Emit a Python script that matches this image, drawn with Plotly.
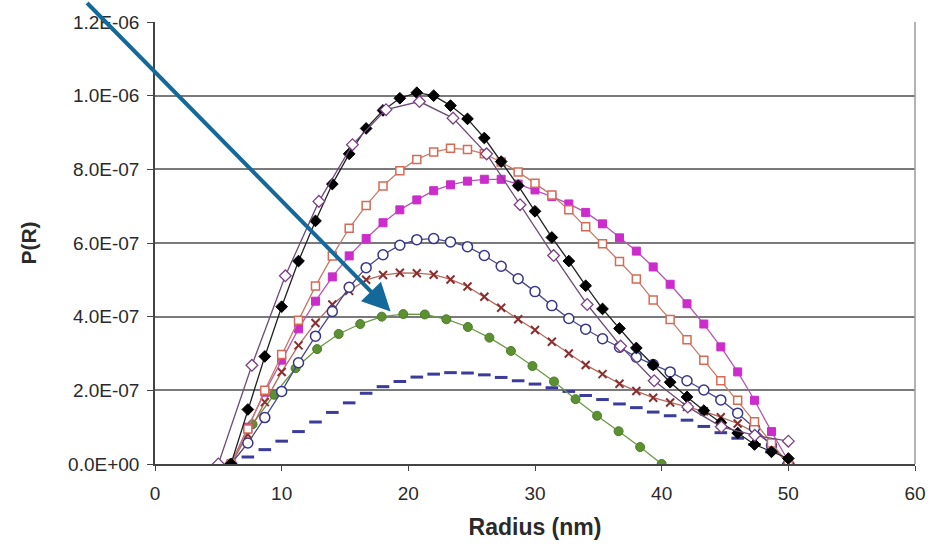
import plotly.graph_objects as go

# Radius grids (nm) for the different curve families
radius_main = [6.0, 7.33, 8.67, 10.0, 11.33, 12.67, 14.0, 15.33, 16.67, 18.0,
               19.33, 20.67, 22.0, 23.33, 24.67, 26.0, 27.33, 28.67, 30.0, 31.33,
               32.67, 34.0, 35.33, 36.67, 38.0, 39.33, 40.67, 42.0, 43.33, 44.67,
               46.0, 47.33, 48.67, 50.0]
radius_wide = [5.0, 7.65, 10.29, 12.94, 15.59, 18.24, 20.88, 23.53, 26.18, 28.82,
               31.47, 34.12, 36.76, 39.41, 42.06, 44.71, 47.35, 50.0]
radius_short = [6.0, 7.7, 9.4, 11.1, 12.8, 14.5, 16.2, 17.9, 19.6, 21.3, 23.0,
                24.7, 26.4, 28.1, 29.8, 31.5, 33.2, 34.9, 36.6, 38.3, 40.0]

# P(R) values in units of 1e-7
UNIT = 1e-7
p_open_diamond = [0.0, 2.68, 5.11, 7.13, 8.67, 9.62, 9.84, 9.39, 8.42, 7.04,
                  5.66, 4.33, 3.2, 2.26, 1.55, 1.01, 0.78, 0.62]
p_black_diamond = [0.0, 1.48, 2.92, 4.27, 5.51, 6.6, 7.6, 8.42, 9.11, 9.6,
                   9.93, 10.08, 10.0, 9.73, 9.37, 8.85, 8.21, 7.56, 6.86, 6.15,
                   5.51, 4.84, 4.21, 3.68, 3.15, 2.69, 2.22, 1.82, 1.45, 1.12,
                   0.84, 0.53, 0.33, 0.15]
p_open_square = [0.0, 0.95, 2.0, 2.97, 3.9, 4.83, 5.65, 6.4, 7.02, 7.55,
                 7.96, 8.27, 8.47, 8.57, 8.54, 8.42, 8.2, 7.93, 7.62, 7.3,
                 6.9, 6.44, 5.98, 5.5, 5.02, 4.45, 3.92, 3.37, 2.82, 2.26,
                 1.73, 1.15, 0.57, 0.0]
p_filled_square = [0.0, 1.0, 1.95, 2.82, 3.67, 4.42, 5.08, 5.65, 6.12, 6.55,
                   6.9, 7.17, 7.42, 7.58, 7.68, 7.73, 7.73, 7.6, 7.44, 7.26,
                   7.06, 6.83, 6.52, 6.14, 5.78, 5.35, 4.88, 4.35, 3.8, 3.18,
                   2.5, 1.73, 0.88, 0.08]
p_open_circle = [0.0, 0.57, 1.26, 1.97, 2.75, 3.47, 4.14, 4.8, 5.33, 5.68,
                 5.94, 6.09, 6.12, 6.03, 5.9, 5.66, 5.37, 5.03, 4.68, 4.3,
                 3.95, 3.66, 3.4, 3.17, 2.9, 2.7, 2.5, 2.26, 2.01, 1.74,
                 1.38, 0.98, 0.5, 0.0]
p_cross = [0.0, 0.8, 1.68, 2.5, 3.22, 3.83, 4.33, 4.7, 5.0, 5.13,
           5.19, 5.18, 5.14, 5.01, 4.82, 4.54, 4.24, 3.93, 3.64, 3.32,
           3.0, 2.69, 2.44, 2.18, 1.98, 1.8, 1.67, 1.55, 1.43, 1.27,
           1.1, 0.86, 0.55, 0.0]
p_green = [0.0, 1.08, 1.88, 2.6, 3.12, 3.53, 3.8, 4.0, 4.07, 4.06, 3.93,
           3.72, 3.43, 3.07, 2.66, 2.24, 1.76, 1.31, 0.89, 0.46, 0.0]
p_dash = [0.0, 0.19, 0.39, 0.62, 0.88, 1.14, 1.4, 1.66, 1.92, 2.1,
          2.24, 2.36, 2.44, 2.48, 2.47, 2.42, 2.35, 2.26, 2.17, 2.07,
          1.97, 1.86, 1.75, 1.63, 1.53, 1.41, 1.31, 1.19, 1.02, 0.85,
          0.7, 0.53, 0.33, 0.0]

y_tick_vals = [0, 2e-7, 4e-7, 6e-7, 8e-7, 1e-6, 1.2e-6]
y_tick_text = ["0.0E+00", "2.0E-07", "4.0E-07", "6.0E-07", "8.0E-07",
               "1.0E-06", "1.2E-06"]
x_tick_vals = [0, 10, 20, 30, 40, 50, 60]


def scaled(vals):
    return [v * UNIT for v in vals]


fig = go.Figure()

fig.add_trace(go.Scatter(
    x=radius_main, y=scaled(p_dash), mode="markers",
    marker=dict(symbol="line-ew", size=9, color="#3b3b9c",
                line=dict(color="#3b3b9c", width=3))))

fig.add_trace(go.Scatter(
    x=radius_short, y=scaled(p_green), mode="lines+markers",
    line=dict(color="#6a9a45", width=1.3),
    marker=dict(symbol="circle", size=9, color="#5b9130",
                line=dict(color="#4d7d28", width=1))))

fig.add_trace(go.Scatter(
    x=radius_main, y=scaled(p_cross), mode="lines+markers",
    line=dict(color="#b66a5c", width=1.3),
    marker=dict(symbol="x-thin", size=8, color="#8a2f2f",
                line=dict(color="#8a2f2f", width=2))))

fig.add_trace(go.Scatter(
    x=radius_main, y=scaled(p_open_circle), mode="lines+markers",
    line=dict(color="#4a4a8e", width=1.3),
    marker=dict(symbol="circle", size=10, color="white",
                line=dict(color="#35358a", width=1.5))))

fig.add_trace(go.Scatter(
    x=radius_main, y=scaled(p_filled_square), mode="lines+markers",
    line=dict(color="#b556b5", width=1.3),
    marker=dict(symbol="square", size=8, color="#cc2ccc",
                line=dict(color="#cc2ccc", width=1))))

fig.add_trace(go.Scatter(
    x=radius_main, y=scaled(p_open_square), mode="lines+markers",
    line=dict(color="#c77a68", width=1.3),
    marker=dict(symbol="square", size=8, color="white",
                line=dict(color="#d86a55", width=1.5))))

fig.add_trace(go.Scatter(
    x=radius_main, y=scaled(p_black_diamond), mode="lines+markers",
    line=dict(color="#222222", width=1.3),
    marker=dict(symbol="diamond", size=9, color="black",
                line=dict(color="black", width=1))))

fig.add_trace(go.Scatter(
    x=radius_wide, y=scaled(p_open_diamond), mode="lines+markers",
    line=dict(color="#6e4a78", width=1.3),
    marker=dict(symbol="diamond", size=9, color="white",
                line=dict(color="#7a3f82", width=1.3))))

# Pointer arrow; tail runs off the top edge of the page
fig.add_annotation(
    x=18.6, y=4.14e-7, xref="x", yref="y",
    ax=-305, ay=-310, axref="pixel", ayref="pixel",
    text="", showarrow=True, arrowhead=2, arrowsize=1.4,
    arrowwidth=4, arrowcolor="#14699a", standoff=0)

# Light right-hand frame line
fig.add_shape(type="line", xref="paper", yref="paper",
              x0=1, x1=1, y0=0, y1=1,
              line=dict(color="#9a9a9a", width=1.5))

FONT = "Liberation Sans, Arial, sans-serif"
tick_font = dict(family=FONT, size=19, color="#2a2a2a")

fig.update_layout(
    width=940, height=548,
    margin=dict(l=155, r=25, t=14, b=84),
    paper_bgcolor="white", plot_bgcolor="white",
    showlegend=False,
    font=tick_font,
    xaxis=dict(
        range=[0, 60], tickvals=x_tick_vals, showgrid=False,
        zeroline=False, showline=True, linecolor="#444444", linewidth=1.5,
        ticks="outside", ticklen=5, tickcolor="#444444", tickwidth=1,
        tickfont=tick_font, ticklabelstandoff=6,
        title=dict(text="<b>Radius (nm)</b>", standoff=16,
                   font=dict(family=FONT, size=23, color="#2a2a2a"))),
    yaxis=dict(
        range=[0, 1.2e-6], tickvals=y_tick_vals, ticktext=y_tick_text,
        showgrid=True, gridcolor="#7a7a7a", gridwidth=1.5,
        zeroline=False, showline=True, linecolor="#444444", linewidth=1.5,
        ticks="outside", ticklen=6, tickcolor="#444444", tickwidth=1,
        tickfont=tick_font, ticklabelstandoff=4,
        title=dict(text="<b>P(R)</b>", standoff=26,
                   font=dict(family=FONT, size=21, color="#2a2a2a"))),
)

fig.write_html("out.html")
